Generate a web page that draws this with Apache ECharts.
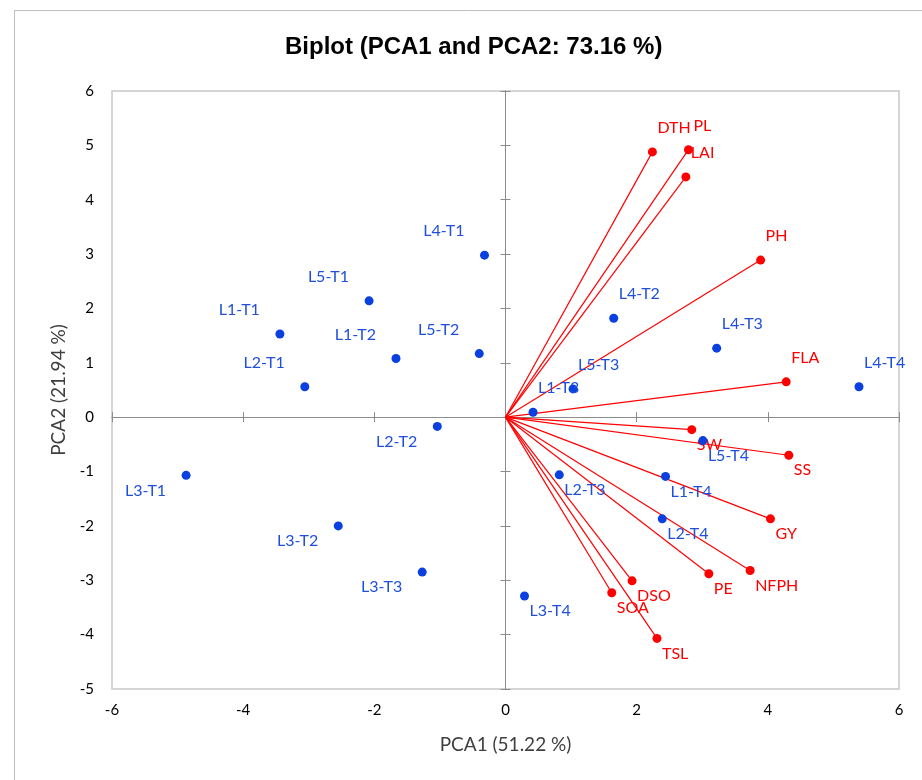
<!DOCTYPE html>
<html>
<head>
<meta charset="utf-8">
<title>Biplot</title>
<script src="https://cdn.jsdelivr.net/npm/echarts@6/dist/echarts.min.js"></script>
<style>
  html, body { margin: 0; padding: 0; background: #fff; }
  #chart { width: 922px; height: 780px; }
</style>
</head>
<body>
<div id="chart"></div>
<script>
// variables (loadings) - drawn as red vectors from origin
var varNames = ['DTH', 'PL', 'LAI', 'PH', 'FLA', 'SW', 'SS', 'GY', 'NFPH', 'PE', 'DSO', 'SOA', 'TSL'];
var varPC1 = [2.24, 2.79, 2.75, 3.89, 4.28, 2.84, 4.32, 4.04, 3.73, 3.10, 1.93, 1.62, 2.31];
var varPC2 = [4.88, 4.92, 4.42, 2.89, 0.65, -0.23, -0.70, -1.87, -2.82, -2.88, -3.01, -3.23, -4.07];

// observations (scores) - blue points
var obsNames = ['L1-T1', 'L1-T2', 'L1-T3', 'L1-T4',
                'L2-T1', 'L2-T2', 'L2-T3', 'L2-T4',
                'L3-T1', 'L3-T2', 'L3-T3', 'L3-T4',
                'L4-T1', 'L4-T2', 'L4-T3', 'L4-T4',
                'L5-T1', 'L5-T2', 'L5-T3', 'L5-T4'];
var obsPC1 = [-3.44, -1.67, 0.42, 2.44,
              -3.06, -1.04, 0.82, 2.39,
              -4.87, -2.55, -1.27, 0.29,
              -0.32, 1.65, 3.22, 5.39,
              -2.08, -0.40, 1.03, 3.01];
var obsPC2 = [1.53, 1.08, 0.09, -1.09,
              0.56, -0.17, -1.06, -1.87,
              -1.07, -2.00, -2.85, -3.29,
              2.98, 1.82, 1.27, 0.56,
              2.14, 1.17, 0.52, -0.43];

var xTicks = [-6, 6, 2];   // min, max, step
var yTicks = [-5, 6, 1];

var FONT = 'Lato, "Open Sans", sans-serif';
var RED = '#ff0000';
var BLUE = '#0a3fe0';
var BLUE_TXT = '#1f4fdc';
var AXIS_GRAY = '#8c8c8c';

// label placement by quadrant, like the excel chart
function quadLabel(x, y, color) {
	var right = x >= 0;
	var above = y >= 0;
	return {
		show: true,
		formatter: '{b}',
		position: 'inside',
		align: right ? 'left' : 'right',
		verticalAlign: 'middle',
		offset: [right ? 5 : -20, above ? -24 : 15],
		color: color,
		fontFamily: FONT,
		fontSize: 16
	};
}

var vecData = [], varPts = [], obsPts = [];
for (var i = 0; i < varNames.length; i++) {
	vecData.push({ coords: [[0, 0], [varPC1[i], varPC2[i]]] });
	varPts.push({
		name: varNames[i],
		value: [varPC1[i], varPC2[i]],
		label: quadLabel(varPC1[i], varPC2[i], RED)
	});
}
for (var j = 0; j < obsNames.length; j++) {
	obsPts.push({
		name: obsNames[j],
		value: [obsPC1[j], obsPC2[j]],
		label: quadLabel(obsPC1[j], obsPC2[j], BLUE_TXT)
	});
}

function labelAxis(ticks, nameText, isX) {
	return {
		type: 'value',
		min: ticks[0], max: ticks[1], interval: ticks[2],
		position: isX ? 'bottom' : 'left',
		axisLine: { show: false, onZero: false },
		axisTick: { show: false },
		splitLine: { show: false },
		axisLabel: { color: '#000', fontFamily: FONT, fontSize: 15, margin: isX ? 14 : 18 },
		name: nameText,
		nameLocation: 'middle',
		nameGap: isX ? 46 : 37,
		nameTextStyle: { color: '#404040', fontFamily: FONT, fontSize: 19 }
	};
}

// axis through the origin, with ticks on one side
function zeroAxis(ticks, inside) {
	return {
		type: 'value',
		min: ticks[0], max: ticks[1], interval: ticks[2],
		axisLine: { show: true, onZero: true, onZeroAxisIndex: 0, lineStyle: { color: AXIS_GRAY, width: 1 } },
		axisTick: { show: true, inside: inside, length: 5, lineStyle: { color: AXIS_GRAY } },
		axisLabel: { show: false },
		splitLine: { show: false }
	};
}

var chart = echarts.init(document.getElementById('chart'));
var option = {
	backgroundColor: '#fff',
	animation: false,
	title: {
		text: 'Biplot (PCA1 and PCA2: 73.16 %)',
		left: 280,
		top: 30,
		textStyle: { fontFamily: '"Liberation Sans", Arial, sans-serif', fontWeight: 'bold', fontSize: 24, color: '#000' }
	},
	graphic: [{
		type: 'rect',
		shape: { x: 14.5, y: 10.5, width: 1000, height: 1000 },
		style: { fill: 'none', stroke: '#bfbfbf', lineWidth: 1 },
		silent: true
	}],
	grid: {
		left: 112, top: 91, right: 23, bottom: 91,
		show: true,
		borderColor: '#c8c8c8',
		borderWidth: 1.5,
		backgroundColor: '#fff',
		outerBoundsMode: 'none'
	},
	xAxis: [labelAxis(xTicks, 'PCA1 (51.22 %)', true), zeroAxis(xTicks, false), zeroAxis(xTicks, true)],
	yAxis: [labelAxis(yTicks, 'PCA2 (21.94 %)', false), zeroAxis(yTicks, false), zeroAxis(yTicks, true)],
	series: [
		{
			type: 'lines',
			coordinateSystem: 'cartesian2d',
			xAxisIndex: 0, yAxisIndex: 0,
			silent: true,
			lineStyle: { color: RED, width: 1.2, opacity: 1 },
			data: vecData,
			z: 3
		},
		{
			type: 'scatter',
			xAxisIndex: 0, yAxisIndex: 0,
			symbolSize: 9,
			itemStyle: { color: RED, opacity: 1 },
			data: varPts,
			z: 4
		},
		{
			type: 'scatter',
			xAxisIndex: 0, yAxisIndex: 0,
			symbolSize: 9,
			itemStyle: { color: BLUE, opacity: 1 },
			data: obsPts,
			z: 5
		}
	]
};
chart.setOption(option);
</script>
</body>
</html>
